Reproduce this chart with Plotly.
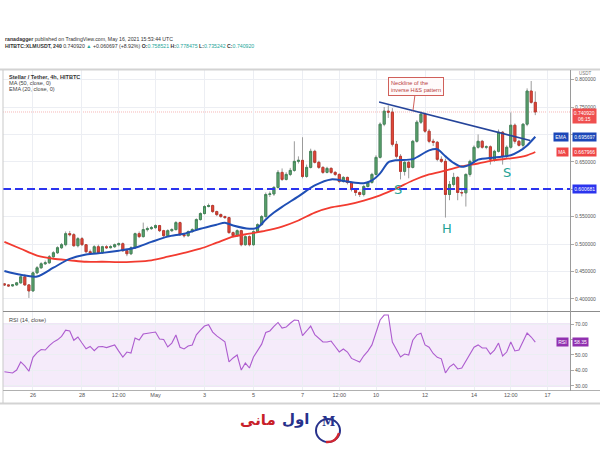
import plotly.graph_objects as go
import pandas as pd

# ---------------- data ----------------
start_time = "2021-04-24 20:00"   # first 4h candle

opens = [
    .4275, .4256, .4238, .4256, .4293, .4403, .4256, .4147, .4476, .4568,
    .4641, .4659, .4769, .4842, .4934, .4989, .5190, .5172, .4971, .5099,
    .4989, .4861, .4842, .4952, .4842, .4952, .4934, .4952, .4989, .5007,
    .4879, .4824, .4934, .5190, .5136, .5264, .5282, .5300, .5337, .5245,
    .5154, .5245, .5264, .5392, .5172, .5154, .5227, .5264, .5447, .5557,
    .5685, .5703, .5593, .5538, .5502, .5484, .5209, .5154, .5245, .4989,
    .5136, .4989, .5227, .5355, .5502, .5905, .5915, .6033, .6308, .6179,
    .6271, .6344, .6509, .6527, .6234, .6399, .6692, .6491, .6399, .6308,
    .6381, .6308, .6271, .6143, .6216, .6125, .5996, .5941, .5905, .6051,
    .6125, .6271, .6582, .7187, .7425, .7407, .6820, .6601, .6326, .6491,
    .6399, .6875, .7223, .7370, .7059, .6875, .6857, .6546, .6509, .5905,
    .6088, .6216, .5941, .5935, .6271, .6509, .6766, .6875, .6766, .6775,
    .6546, .6692, .7040, .6601, .6766, .7168, .6875, .6802, .7187, .7791,
    .7585,
]
highs = [
    .4290, .4270, .4270, .4310, .4430, .4450, .4270, .4500, .4600, .4670,
    .4700, .4800, .4870, .4960, .5020, .5230, .5240, .5200, .5130, .5130,
    .5000, .4900, .4980, .4990, .4970, .4980, .4980, .5010, .5030, .5030,
    .4900, .4960, .5210, .5230, .5392, .5320, .5330, .5360, .5350, .5260,
    .5270, .5290, .5420, .5410, .5200, .5250, .5290, .5470, .5580, .5710,
    .5740, .5720, .5610, .5560, .5520, .5500, .5230, .5270, .5260, .5160,
    .5160, .5250, .5380, .5530, .5940, .5960, .6060, .6350, .6380, .6310,
    .6390, .6875, .6600, .6949, .6450, .6740, .6720, .6520, .6420, .6410,
    .6400, .6330, .6290, .6240, .6230, .6140, .6010, .5960, .6080, .6150,
    .6300, .6620, .7220, .7500, .7530, .7480, .6880, .6640, .6520, .6520,
    .6900, .7260, .7420, .7400, .7100, .6920, .6880, .6600, .6560, .6150,
    .6300, .6240, .5990, .6290, .6540, .6800, .7000, .6900, .6800, .6800,
    .6720, .7090, .7060, .6800, .7400, .7200, .6900, .7200, .7840, .7974,
    .7785,
]
lows = [
    .4240, .4220, .4225, .4240, .4280, .4240, .4018, .4130, .4450, .4550,
    .4620, .4640, .4750, .4820, .4910, .4960, .5140, .4950, .4940, .4970,
    .4840, .4810, .4820, .4820, .4820, .4910, .4920, .4930, .4960, .4860,
    .4780, .4800, .4910, .5110, .5120, .5230, .5260, .5280, .5220, .5130,
    .5140, .5220, .5250, .5150, .5120, .5130, .5210, .5240, .5430, .5540,
    .5670, .5570, .5510, .5480, .5460, .5190, .5120, .5130, .4960, .4970,
    .4960, .4970, .5210, .5340, .5480, .5860, .5880, .6010, .6150, .6160,
    .6240, .6320, .6470, .6200, .6210, .6380, .6470, .6370, .6280, .6290,
    .6280, .6240, .6110, .6120, .6090, .5960, .5880, .5860, .5870, .6030,
    .6100, .6250, .6560, .7150, .7300, .6780, .6560, .6180, .6250, .6200,
    .6380, .6850, .7190, .7030, .6840, .6790, .6510, .6480, .5484, .5800,
    .6050, .5800, .5870, .5685, .6230, .6480, .6740, .6740, .6730, .6450,
    .6500, .6670, .6450, .6560, .6740, .6830, .6780, .6750, .7150, .7560,
    .7352,
]
closes = [
    .4256, .4238, .4256, .4293, .4403, .4256, .4147, .4476, .4568, .4641,
    .4659, .4769, .4842, .4934, .4989, .5190, .5172, .4971, .5099, .4989,
    .4861, .4842, .4952, .4842, .4952, .4934, .4952, .4989, .5007, .4879,
    .4824, .4934, .5190, .5136, .5264, .5282, .5300, .5337, .5245, .5154,
    .5245, .5264, .5392, .5172, .5154, .5227, .5264, .5447, .5557, .5685,
    .5703, .5593, .5538, .5502, .5484, .5209, .5154, .5245, .4989, .5136,
    .4989, .5227, .5355, .5502, .5905, .5915, .6033, .6308, .6179, .6271,
    .6344, .6509, .6527, .6234, .6399, .6692, .6491, .6399, .6308, .6381,
    .6308, .6271, .6143, .6216, .6125, .5996, .5941, .5905, .6051, .6125,
    .6271, .6582, .7187, .7425, .7407, .6820, .6601, .6326, .6491, .6399,
    .6875, .7223, .7370, .7059, .6875, .6857, .6546, .6509, .5905, .6088,
    .6216, .5941, .5935, .6271, .6509, .6766, .6875, .6766, .6775, .6546,
    .6692, .7040, .6601, .6766, .7168, .6875, .6802, .7187, .7791, .7585,
    .74092,
]
rsi = [
    39.2, 38.6, 38.4, 40.3, 45.5, 43.0, 39.5, 48.5, 51.5, 53.5,
    53.2, 56.0, 58.3, 59.8, 62.0, 66.0, 65.5, 59.5, 61.6, 57.7,
    54.0, 55.5, 52.8, 55.3, 55.5, 54.8, 55.5, 56.5, 52.5, 48.7,
    51.9, 51.3, 61.0, 59.7, 63.5, 64.0, 64.2, 64.8, 60.3, 60.0,
    55.2, 57.7, 62.9, 55.0, 53.9, 55.8, 56.5, 63.0, 66.0, 68.7,
    69.6, 64.8, 62.3, 60.5, 58.5, 45.5, 48.1, 50.0, 40.3, 44.8,
    41.6, 48.7, 53.0, 57.0, 64.5, 65.5, 68.5, 71.0, 67.4, 68.0,
    70.5, 72.6, 72.3, 62.5, 65.5, 68.7, 63.2, 60.5, 58.4, 58.4,
    59.0, 55.5, 52.0, 53.9, 51.9, 47.8, 46.5, 45.5, 49.5, 52.5,
    56.5, 65.0, 72.6, 75.8, 75.8, 58.4, 54.0, 48.7, 50.6, 50.0,
    59.5, 63.0, 64.0, 56.5, 55.0, 51.0, 48.5, 47.5, 38.4, 42.3,
    44.2, 41.0, 41.6, 46.0, 51.0, 55.0, 56.5, 54.5, 54.5, 50.6,
    53.2, 57.7, 49.4, 51.9, 58.4, 52.6, 53.2, 59.0, 64.2, 61.6,
    58.35,
]
ema_idx = [0, 4, 8, 12, 16, 20, 24, 28, 32, 36, 40, 44, 48, 52, 54, 56, 60, 62, 64, 66,
           68, 72, 76, 80, 84, 88, 90, 92, 94, 96, 100, 104, 106, 108, 110, 112, 114, 116,
           120, 124, 126, 128, 130]
ema20 = [0.451, 0.444, 0.441, 0.457, 0.473, 0.481, 0.484, 0.488, 0.4934, 0.504,
         0.5136, 0.519, 0.528, 0.5355, 0.539, 0.534, 0.528, 0.530, 0.545, 0.5575,
         0.568, 0.587, 0.607, 0.618, 0.614, 0.611, 0.616, 0.629, 0.649, 0.653,
         0.655, 0.671, 0.673, 0.660, 0.648, 0.641, 0.645, 0.654, 0.658, 0.662,
         0.669, 0.680, 0.6957]
ma_idx = [0, 4, 8, 12, 16, 20, 24, 28, 32, 36, 40, 44, 48, 52, 56, 60, 64, 68, 72, 76,
          80, 84, 88, 92, 96, 100, 104, 108, 112, 116, 120, 124, 128, 130]
ma50 = [0.504, 0.4916, 0.479, 0.4733, 0.4705, 0.4678, 0.4678, 0.467, 0.468, 0.4705,
        0.477, 0.484, 0.4916, 0.5026, 0.5136, 0.519, 0.5245, 0.532, 0.543, 0.5575,
        0.567, 0.572, 0.5795, 0.589, 0.6015, 0.616, 0.627, 0.634, 0.642, 0.647,
        0.653, 0.6564, 0.662, 0.668]

support_level = 0.600681
support_label = "0.600681"
last_price_label = "0.740920"
countdown = "06:15"
ema_last, ema_label = 0.695697, "0.695697"
ma_last, ma_label = 0.667966, "0.667966"
rsi_last, rsi_label = 58.35, "58.35"

neck_t = ["2021-05-10 03:00", "2021-05-16 07:00"]
neck_p = [0.759, 0.689]
callout_t, callout_p = "2021-05-11 12:15", 0.744

pattern_text = ["S", "H", "S"]
pattern_t = ["2021-05-10 21:30", "2021-05-12 22:00", "2021-05-15 08:30"]
pattern_p = [0.5996, 0.528, 0.631]

price_ticks = [0.40, 0.45, 0.50, 0.55, 0.60, 0.65, 0.70, 0.75, 0.80]
# labels hidden behind the price tags in the original are left blank
price_tick_text = ["0.400000", "0.450000", "0.500000", "0.550000", "", "0.650000", "", "0.750000", "0.800000"]
rsi_ticks = [30, 40, 50, 60, 70]
rsi_tick_text = ["30.00", "40.00", "50.00", "", "70.00"]
date_ticks = ["2021-04-26", "2021-04-28", "2021-04-29 12:00", "2021-05-01", "2021-05-03",
              "2021-05-05", "2021-05-07", "2021-05-08 12:00", "2021-05-10", "2021-05-12",
              "2021-05-14", "2021-05-15 12:00", "2021-05-17"]
date_labels = ["26", "28", "12:00", "May", "3", "5", "7", "12:00", "10", "12", "14", "12:00", "17"]
x_window = ["2021-04-24 18:38", "2021-05-17 22:00"]

# ---------------- figure ----------------
W, H = 600, 450
def PX(p):
    return p / W
def PY(p):
    return 1 - p / H

FONT = "Liberation Sans, Arial, sans-serif"
GRID = "#eceef3"
GREEN, GREEN_L = "#5ea66f", "#44875a"
RED, RED_L = "#e5483c", "#c0392e"
EMA_C, MA_C = "#1f4fb5", "#f23b30"
SUP_C = "#2b34ee"
RSI_C = "#ad5ccf"

t = pd.date_range(start_time, periods=len(closes), freq="4h")
body_hi = [max(o, c) for o, c in zip(opens, closes)]
body_lo = [min(o, c) for o, c in zip(opens, closes)]

fig = go.Figure()
# wicks (grey)
fig.add_trace(go.Candlestick(
    x=t, open=opens, high=highs, low=lows, close=closes,
    increasing=dict(line=dict(color="#9b9b9b", width=1), fillcolor="#9b9b9b"),
    decreasing=dict(line=dict(color="#9b9b9b", width=1), fillcolor="#9b9b9b"),
    whiskerwidth=0, showlegend=False, hoverinfo="skip", xaxis="x", yaxis="y"))
# bodies
fig.add_trace(go.Candlestick(
    x=t, open=opens, high=body_hi, low=body_lo, close=closes,
    increasing=dict(line=dict(color=GREEN_L, width=1), fillcolor=GREEN),
    decreasing=dict(line=dict(color=RED_L, width=1), fillcolor=RED),
    whiskerwidth=0, showlegend=False, hoverinfo="skip", xaxis="x", yaxis="y"))

fig.add_trace(go.Scatter(x=[t[i] for i in ma_idx], y=ma50, mode="lines",
                         line=dict(color=MA_C, width=1.8, shape="spline", smoothing=0.8),
                         showlegend=False, xaxis="x", yaxis="y"))
fig.add_trace(go.Scatter(x=[t[i] for i in ema_idx], y=ema20, mode="lines",
                         line=dict(color=EMA_C, width=2, shape="spline", smoothing=0.8),
                         showlegend=False, xaxis="x", yaxis="y"))
fig.add_trace(go.Scatter(x=pd.to_datetime(neck_t), y=neck_p, mode="lines",
                         line=dict(color="#25449a", width=1.6),
                         showlegend=False, xaxis="x", yaxis="y"))
fig.add_trace(go.Scatter(x=t, y=rsi, mode="lines", line=dict(color=RSI_C, width=1.1),
                         showlegend=False, xaxis="x2", yaxis="y2"))

xdom = [PX(3), PX(570)]
axis_common = dict(showline=False, zeroline=False, gridcolor=GRID, gridwidth=1)
fig.update_layout(
    width=W, height=H, margin=dict(l=0, r=0, t=0, b=0),
    paper_bgcolor="white", plot_bgcolor="white", showlegend=False,
    font=dict(family=FONT, color="#333"),
    xaxis=dict(domain=xdom, anchor="y", type="date", range=x_window,
               tickvals=date_ticks, showticklabels=False, ticks="",
               rangeslider=dict(visible=False), showgrid=True, **axis_common),
    xaxis2=dict(domain=xdom, anchor="y2", type="date", range=x_window, matches="x",
                tickvals=date_ticks, ticktext=date_labels, ticks="",
                tickfont=dict(size=5.5, color="#555", family=FONT),
                showgrid=True, **axis_common),
    yaxis=dict(domain=[PY(311), PY(70)], anchor="x", side="right",
               range=[0.378, 0.8175], tickvals=price_ticks, ticktext=price_tick_text,
               ticks="outside", ticklen=3, tickcolor="#aaa",
               tickfont=dict(size=5, color="#555", family=FONT),
               showgrid=True, **axis_common),
    yaxis2=dict(domain=[PY(390), PY(311)], anchor="x2", side="right",
                range=[27.4, 78.4], tickvals=rsi_ticks, ticktext=rsi_tick_text,
                ticks="outside", ticklen=3, tickcolor="#aaa",
                tickfont=dict(size=5, color="#555", family=FONT),
                showgrid=True, **axis_common),
)

shapes = []
# RSI band
shapes.append(dict(type="rect", xref="paper", yref="y2", x0=xdom[0], x1=xdom[1], y0=30, y1=70,
                   fillcolor="rgba(170,90,210,0.12)", line=dict(width=0), layer="below"))
for lv in (30, 70):
    shapes.append(dict(type="line", xref="paper", yref="y2", x0=xdom[0], x1=xdom[1], y0=lv, y1=lv,
                       line=dict(color="rgba(160,110,200,0.35)", width=1), layer="below"))
# support line
shapes.append(dict(type="line", xref="paper", yref="y", x0=xdom[0], x1=xdom[1],
                   y0=support_level, y1=support_level,
                   line=dict(color=SUP_C, width=2, dash="8px,4px")))
# last price line
shapes.append(dict(type="line", xref="paper", yref="y", x0=xdom[0], x1=xdom[1],
                   y0=closes[-1], y1=closes[-1],
                   line=dict(color="#f6b8b8", width=1, dash="1px,1px"), layer="below"))
# frames
def hline(py, x0, x1, color, width):
    shapes.append(dict(type="line", xref="paper", yref="paper", x0=PX(x0), x1=PX(x1),
                       y0=PY(py), y1=PY(py), line=dict(color=color, width=width)))
def vline(px, y0, y1, color, width):
    shapes.append(dict(type="line", xref="paper", yref="paper", x0=PX(px), x1=PX(px),
                       y0=PY(y0), y1=PY(y1), line=dict(color=color, width=width)))
hline(69.5, 0, 600, "#d3d3d3", 2)
hline(403.5, 0, 600, "#d3d3d3", 2)
vline(3, 70, 403, "#c9c9c9", 1)
hline(311.5, 3, 600, "#8c8c8c", 1)
hline(390.5, 3, 600, "#b0b0b0", 1)
vline(570.5, 70, 391, "#9a9a9a", 1)

# logo circle
shapes.append(dict(type="circle", xref="paper", yref="paper", x0=PX(316), x1=PX(340),
                   y0=PY(442), y1=PY(419), line=dict(color="#27318b", width=2)))
shapes.append(dict(type="path", xref="paper", yref="paper",
                   path=f"M {PX(339)} {PY(433)} Q {PX(336)} {PY(443)} {PX(326)} {PY(442)}",
                   line=dict(color="#d22630", width=2.5)))
fig.update_layout(shapes=shapes)

ann = []
def text(px, py, s, size, color="#333", xanchor="left", bold=False, family=FONT):
    ann.append(dict(xref="paper", yref="paper", x=PX(px), y=PY(py), text=(f"<b>{s}</b>" if bold else s),
                    showarrow=False, xanchor=xanchor, yanchor="middle",
                    font=dict(size=size, color=color, family=family)))

TEAL = "#26a69a"
text(3, 39, "<b>ranadagger</b> published on TradingView.com, May 16, 2021 15:53:44 UTC", 5.2, "#333")
text(3, 45.5,
     "<b>HITBTC:XLMUSDT, 240</b> 0.740920 "
     f"<span style='color:{TEAL}'>▲</span> +0.060697 (+8.92%) "
     f"<b>O:</b><span style='color:{TEAL}'>0.758521</span> "
     f"<b>H:</b><span style='color:{TEAL}'>0.778475</span> "
     f"<b>L:</b><span style='color:{TEAL}'>0.735242</span> "
     f"<b>C:</b><span style='color:{TEAL}'>0.740920</span>", 5.2, "#333")
text(7, 77, "Stellar / Tether, 4h, HITBTC", 5.6, "#333", bold=True)
text(7, 83.3, "MA (50, close, 0)", 5.6, "#444")
text(7, 89.3, "EMA (20, close, 0)", 5.6, "#444")
text(7, 319.5, "RSI (14, close)", 5.6, "#444")
text(585, 73.8, "USDT", 4.5, "#777", xanchor="center")

# price-axis tags
def tag(y, yref, s, bg, x=571.5, xanchor="left", size=5, yshift=0, pad=1.2):
    ann.append(dict(xref="paper", yref=yref, x=PX(x), y=y, text=s, showarrow=False,
                    xanchor=xanchor, yanchor="middle", bgcolor=bg, borderpad=pad,
                    yshift=yshift, font=dict(size=size, color="white", family=FONT)))
tag(closes[-1], "y", f"{last_price_label}<br>{countdown}", "#ef4f4f", yshift=-3.8, pad=0.8)
tag(ema_last, "y", ema_label, "#1c47b8")
tag(ema_last, "y", "EMA", "#1c47b8", x=568.5, xanchor="right")
tag(ma_last, "y", ma_label, "#ef4646")
tag(ma_last, "y", "MA", "#ef4646", x=568.5, xanchor="right")
tag(support_level, "y", support_label, SUP_C)
tag(rsi_last, "y2", rsi_label, "#9131b0")
tag(rsi_last, "y2", "RSI", "#9131b0", x=568.5, xanchor="right")

# pattern letters
for s, tt, pp in zip(pattern_text, pattern_t, pattern_p):
    ann.append(dict(xref="x", yref="y", x=tt, y=pp, text=s, showarrow=False,
                    font=dict(size=13, color="#1fa396", family="DejaVu Sans")))

# callout
ann.append(dict(xref="x", yref="y", x=callout_t, y=callout_p,
                text="Neckline of the<br>inverse H&S pattern",
                showarrow=True, arrowhead=0, arrowwidth=1, arrowcolor="#d0605a",
                ax=3, ay=-24, align="left", bgcolor="#fffafa", bordercolor="#d0605a",
                borderwidth=1, borderpad=2,
                font=dict(size=5.6, color="#b8403a", family=FONT)))

# logo texts
ann.append(dict(xref="paper", yref="paper", x=PX(328), y=PY(430.5), text="<b>M</b>", showarrow=False,
                font=dict(size=12, color="#27318b", family="DejaVu Serif")))
ann.append(dict(xref="paper", yref="paper", x=PX(280), y=PY(430), text="<b>اول</b>", showarrow=False,
                xanchor="left", font=dict(size=15, color="#27318b", family="DejaVu Sans")))
ann.append(dict(xref="paper", yref="paper", x=PX(278), y=PY(431), text="<b>مانی</b>", showarrow=False,
                xanchor="right", font=dict(size=15, color="#c8202a", family="DejaVu Sans")))

fig.update_layout(annotations=ann)
fig.write_html("out.html")
